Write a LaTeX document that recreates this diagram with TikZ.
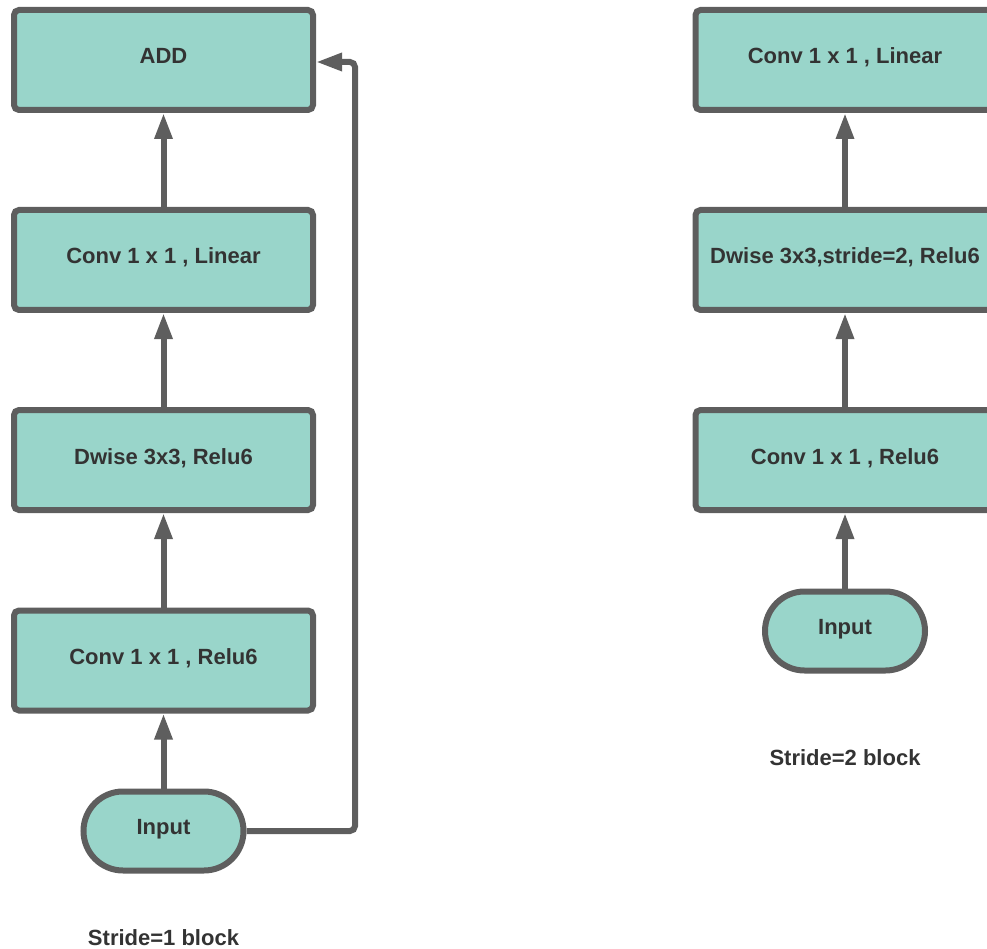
\documentclass[tikz,border=0pt]{standalone}
\usepackage{fontspec}
\setmainfont{Liberation Sans}
\usetikzlibrary{arrows.meta,shapes.misc}
\definecolor{boxfill}{HTML}{99D5CA}
\definecolor{edge}{HTML}{5E5E5E}
\definecolor{txt}{HTML}{333333}
\tikzset{
  lbl/.style={font=\fontsize{22}{26}\selectfont\bfseries, text=txt},
  blk/.style={lbl, draw=edge, fill=boxfill, line width=6pt, rounded corners=5pt,
    minimum width=299pt, minimum height=100pt, inner sep=0pt,
    text height=16pt, text depth=8pt, anchor=center},
  inp/.style={lbl, draw=edge, fill=boxfill, line width=6pt, rounded rectangle,
    minimum width=160pt, minimum height=79pt, inner sep=0pt,
    text height=16pt, text depth=9pt},
  arr/.style={draw=edge, line width=6pt, -{Triangle[width=17pt,length=26pt]}},
}
\begin{document}
\begin{tikzpicture}[x=1pt,y=-1pt]
\useasboundingbox (0,0) rectangle (987,949);
\clip (0,0) rectangle (987,949);
% left column
\node[blk] (add) at (163.5,60) {ADD};
\node[blk] (lin1) at (163.5,260) {Conv 1 x 1 , Linear};
\node[blk] (dw1) at (163.5,460) {Dwise 3x3, Relu6};
\node[blk] (ex1) at (163.5,660.5) {Conv 1 x 1 , Relu6};
\node[inp] (in1) at (163.5,831) {Input};
\node[lbl] (c1) at (163.5,938) {Stride=1 block};
\draw[arr] (in1.north) -- (ex1.south);
\draw[arr] (ex1.north) -- (dw1.south);
\draw[arr] (dw1.north) -- (lin1.south);
\draw[arr] (lin1.north) -- (add.south);
\coordinate (sk1) at (355,831);
\coordinate (sk2) at (355,62);
\draw[arr, rounded corners=5pt] (in1.east) -- (sk1) -- (sk2) -- (add.east |- sk2);
% right column
\node[blk] (lin2) at (845,60) {Conv 1 x 1 , Linear};
\node[blk] (dw2) at (845,260) {Dwise 3x3,stride=2, Relu6};
\node[blk] (ex2) at (845,460) {Conv 1 x 1 , Relu6};
\node[inp] (in2) at (845,631) {Input};
\node[lbl] (c2) at (845,758) {Stride=2 block};
\draw[arr] (in2.north) -- (ex2.south);
\draw[arr] (ex2.north) -- (dw2.south);
\draw[arr] (dw2.north) -- (lin2.south);
\end{tikzpicture}
\end{document}
